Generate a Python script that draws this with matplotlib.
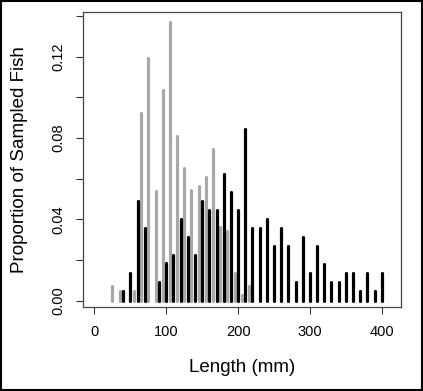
import matplotlib
matplotlib.use('Agg')
import matplotlib.pyplot as plt
from matplotlib.patches import Rectangle

plt.rcParams['font.family'] = ['Liberation Sans', 'DejaVu Sans']

# grey series (lengths end in 5)
grey_len = [25, 35, 55, 65, 75, 85, 95, 105, 115, 125, 135, 145, 155, 165,
            175, 185, 195, 205, 215]
grey_prop = [0.0072, 0.0049, 0.0049, 0.0921, 0.1191, 0.0540, 0.1034, 0.1370,
             0.0809, 0.0654, 0.0542, 0.0565, 0.0609, 0.0744, 0.0362, 0.0341,
             0.0139, 0.0028, 0.0072]

# black series (lengths in 10 mm steps)
black_len = [40, 50, 60, 70, 90, 100, 110, 120, 130, 140, 150, 160, 170, 180,
             190, 200, 210, 220, 230, 240, 250, 260, 270, 280, 290, 300, 310,
             320, 330, 340, 350, 360, 370, 380, 390, 400]
black_prop = [0.0049, 0.0138, 0.0491, 0.0359, 0.0093, 0.0184, 0.0226, 0.0403,
              0.0314, 0.0226, 0.0491, 0.0447, 0.0447, 0.0623, 0.0536, 0.0447,
              0.0842, 0.0359, 0.0359, 0.0403, 0.0270, 0.0359, 0.0270, 0.0093,
              0.0314, 0.0138, 0.0270, 0.0182, 0.0093, 0.0093, 0.0138, 0.0138,
              0.0049, 0.0138, 0.0049, 0.0138]

x_ticks = [0, 100, 200, 300, 400]
y_ticks = [0, 0.02, 0.04, 0.06, 0.08, 0.10, 0.12, 0.14]
y_labels = ['0.00', '', '0.04', '', '0.08', '', '0.12', '']

W, H = 423, 391
fig = plt.figure(figsize=(W / 100, H / 100), dpi=100)
ax = fig.add_axes([82.7 / W, 1 - 306.7 / H, 318 / W, 294.7 / H])

# R style type="h" lines
lg = ax.vlines(grey_len, 0, grey_prop, colors='#a8a8a8', linewidth=2.3)
lb = ax.vlines(black_len, 0, black_prop, colors='black', linewidth=2.3)
lg.set_capstyle('round')
lb.set_capstyle('round')

ax.set_xlim(-16.4, 426.4)
ax.set_ylim(-0.0029, 0.1419)

ax.set_xticks(x_ticks)
ax.set_yticks(y_ticks)
ax.set_yticklabels(y_labels)
ax.tick_params(axis='both', length=5.2, width=0.8, labelsize=10.5, color='#333333')
ax.tick_params(axis='x', pad=8)
ax.tick_params(axis='y', pad=7, labelrotation=90)
for t in ax.get_yticklabels():
    t.set_va('center')

for s in ax.spines.values():
    s.set_linewidth(0.9)
    s.set_color('#444444')

fig.text(241.7 / W, 1 - 368 / H, 'Length (mm)', ha='center', va='center', fontsize=13.5)
fig.text(20 / W, 1 - 159.2 / H, 'Proportion of Sampled Fish', ha='center', va='center',
         rotation=90, fontsize=13.5)

# border around the whole figure
fig.patches.append(Rectangle((0.002, 0.002), 0.996, 0.996, transform=fig.transFigure,
                             fill=False, edgecolor='black', linewidth=1.5))

fig.savefig('out.png', dpi=100)
